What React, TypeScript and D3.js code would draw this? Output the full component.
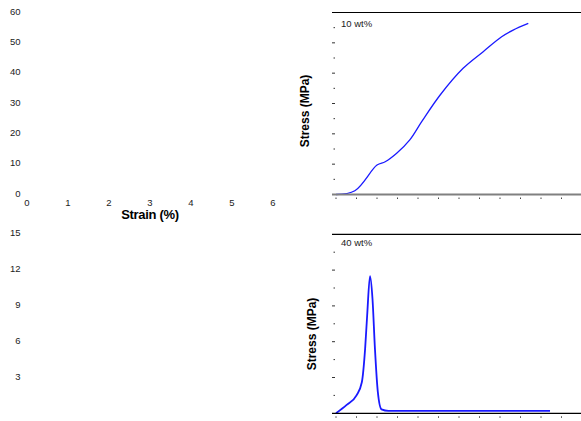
import React, { useEffect, useRef } from 'react';
import * as d3 from 'd3';

// 10 wt% curve (strain %, stress MPa)
const strain10 = [0, 0.46, 1.0, 1.2, 1.48, 1.8, 2.09, 2.54, 3.1, 3.59, 4.04, 4.32, 4.69];
const stress10 = [0, 1.25, 9.7, 10.8, 13.6, 18.0, 24.0, 32.8, 41.6, 47.1, 52.0, 54.2, 56.4];

// 40 wt% curve
const strain40 = [0, 0.26, 0.5, 0.63, 0.71, 0.76, 0.83, 0.89, 0.95, 1.02, 1.11, 1.28, 5.22];
const stress40 = [0, 0.7, 1.5, 2.6, 5.4, 8.2, 11.5, 9.6, 5.4, 1.8, 0.33, 0.2, 0.2];

const xLabels = [0, 1, 2, 3, 4, 5, 6];
const yLabelsTop = [0, 10, 20, 30, 40, 50, 60];
const yLabelsBottom = [3, 6, 9, 12, 15];
const panelNames = ['10 wt%', '40 wt%'];

const W = 581;
const H = 421;
const font = '"Liberation Sans", Arial, sans-serif';

const App = () => {
    const svgRef = useRef<SVGSVGElement>(null);

    useEffect(() => {
        const svg = d3.select(svgRef.current);
        svg.selectAll('*').remove();

        const x = d3.scaleLinear().domain([0, 6]).range([336, 582]);
        // tick labels sit far to the left of the plots
        const xLab = d3.scaleLinear().domain([0, 6]).range([27, 273]);

        const panels = [
            {
                y: d3.scaleLinear().domain([0, 60]).range([194.5, 12.5]),
                xs: strain10, ys: stress10, labels: yLabelsTop,
                step: 5, major: 10, axisColor: '#808080', axisWidth: 2, lw: 1.3,
                curve: d3.curveCatmullRom.alpha(0.5),
                name: panelNames[0], nameY: 27, titleX: 309, titleY: 111,
            },
            {
                y: d3.scaleLinear().domain([0, 15]).range([413.3, 234.3]),
                xs: strain40, ys: stress40, labels: yLabelsBottom,
                step: 1.5, major: 3, axisColor: '#000', axisWidth: 1.3, lw: 1.8,
                curve: d3.curveMonotoneX,
                name: panelNames[1], nameY: 246, titleX: 316, titleY: 334,
            },
        ];

        panels.forEach(p => {
            const [y0, y1] = p.y.range();
            const g = svg.append('g');

            // top border
            g.append('line')
                .attr('x1', 332).attr('x2', W).attr('y1', y1).attr('y2', y1)
                .attr('stroke', '#000').attr('stroke-width', 1.2);

            // y ticks
            const ticks = d3.range(p.step, p.y.domain()[1] - 0.01, p.step);
            g.selectAll('.yt').data(ticks).enter().append('line')
                .attr('x1', d => (Math.abs(d / p.major - Math.round(d / p.major)) < 0.01 ? 332 : 333.5))
                .attr('x2', 335)
                .attr('y1', d => p.y(d)).attr('y2', d => p.y(d))
                .attr('stroke', '#333').attr('stroke-width', 1);

            // x ticks
            g.selectAll('.xt').data(d3.range(0, 6, 0.5)).enter().append('line')
                .attr('x1', d => x(d)).attr('x2', d => x(d))
                .attr('y1', y0 + 3).attr('y2', y0 + 4.5)
                .attr('stroke', '#444').attr('stroke-width', 1);

            // curve
            const pts = p.xs.map((s, i) => [s, p.ys[i]] as [number, number]);
            g.append('path')
                .datum(pts)
                .attr('d', d3.line<[number, number]>()
                    .x(d => x(d[0]))
                    .y(d => p.y(d[1]))
                    .curve(p.curve))
                .attr('fill', 'none')
                .attr('stroke', '#1a1aff')
                .attr('stroke-width', p.lw);

            // x axis line
            g.append('line')
                .attr('x1', 332).attr('x2', W).attr('y1', y0).attr('y2', y0)
                .attr('stroke', p.axisColor).attr('stroke-width', p.axisWidth);

            // y tick labels (displaced to the left edge)
            g.selectAll('.yl').data(p.labels).enter().append('text')
                .attr('x', 20.5).attr('y', d => p.y(d) + 2)
                .attr('text-anchor', 'end')
                .attr('font-family', font).attr('font-size', 9.5)
                .attr('fill', '#222')
                .text(d => d);

            g.append('text')
                .attr('x', 341).attr('y', p.nameY)
                .attr('font-family', font).attr('font-size', 9.5)
                .attr('fill', '#222')
                .text(p.name);

            g.append('text')
                .attr('transform', `translate(${p.titleX},${p.titleY}) rotate(-90)`)
                .attr('text-anchor', 'middle')
                .attr('font-family', font).attr('font-size', 12).attr('font-weight', 'bold')
                .text('Stress (MPa)');
        });

        // x tick labels under the left area
        svg.selectAll('.xl').data(xLabels).enter().append('text')
            .attr('x', d => xLab(d)).attr('y', 206)
            .attr('text-anchor', 'middle')
            .attr('font-family', font).attr('font-size', 9.5)
            .attr('fill', '#222')
            .text(d => d);

        svg.append('text')
            .attr('x', 150).attr('y', 219)
            .attr('text-anchor', 'middle')
            .attr('font-family', font).attr('font-size', 13).attr('font-weight', 'bold')
            .attr('letter-spacing', -0.3)
            .text('Strain (%)');
    }, []);

    return (
        <svg ref={svgRef} width={W} height={H}
            style={{ position: 'absolute', left: 0, top: 0, background: '#fff' }} />
    );
};

export default App;
